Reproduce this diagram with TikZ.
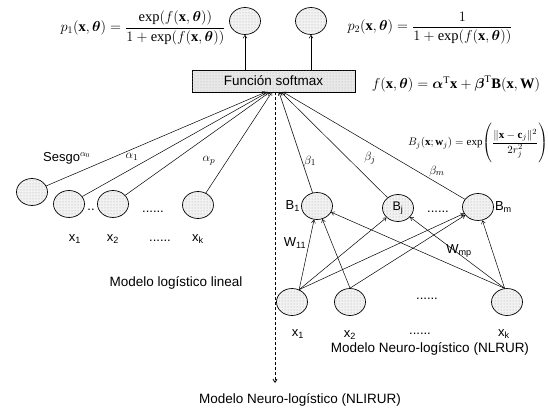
\documentclass[tikz,border=0pt]{standalone}
\usepackage{fontspec}
\setmainfont{Liberation Serif}
\setsansfont{Liberation Sans}
\usepackage{amsmath}
\usetikzlibrary{shapes.geometric,arrows.meta,patterns}
\begin{document}
\begin{tikzpicture}[x=1pt,y=-1pt,
  neuron/.style={ellipse, draw, line width=0.7pt, minimum width=31pt, minimum height=27pt, inner sep=0pt,
    fill=gray!10, postaction={pattern=dots, pattern color=gray!70}},
  smbox/.style={draw, line width=0.5pt, minimum width=163pt, minimum height=22pt, inner sep=0pt,
    fill=gray!18, postaction={pattern=dots, pattern color=gray!60}, font=\sffamily\fontsize{13.5}{15}\selectfont},
  arr/.style={-{Straight Barb[length=3pt,width=4pt]}, line width=0.5pt},
  lab/.style={font=\sffamily\fontsize{13}{15}\selectfont, inner sep=1pt},
  big/.style={font=\sffamily\fontsize{13.5}{15}\selectfont, inner sep=0pt},
  eq/.style={font=\fontsize{14.5}{16}\selectfont, inner sep=0pt}
]
\useasboundingbox (0,0) rectangle (548,412);

% outputs and softmax
\node[neuron] (o1) at (245,21) {};
\node[neuron] (o2) at (311,21) {};
\node[smbox] (sm) at (273.5,81) {Función softmax};
\draw[arr] (sm.north -| o1.south) -- (o1.south);
\draw[arr] (sm.north -| o2.south) -- (o2.south);

% formulas
\node[eq] (p1) at (143,28) {$p_1(\mathbf{x},\boldsymbol{\theta})=\dfrac{\exp(f(\mathbf{x},\boldsymbol{\theta}))}{1+\exp(f(\mathbf{x},\boldsymbol{\theta}))}$};
\node[eq] (p2) at (430,28) {$p_2(\mathbf{x},\boldsymbol{\theta})=\dfrac{1}{1+\exp(f(\mathbf{x},\boldsymbol{\theta}))}$};
\node[eq] (fx) at (456,84) {$f(\mathbf{x},\boldsymbol{\theta})=\boldsymbol{\alpha}^{\mathrm{T}}\mathbf{x}+\boldsymbol{\beta}^{\mathrm{T}}\mathbf{B}(\mathbf{x},\mathbf{W})$};
\node[eq, font=\fontsize{11}{13}\selectfont] (bf) at (478,143) {$B_j(\mathbf{x};\mathbf{w}_j)=\exp\!\left(\rule[-16pt]{0pt}{38pt}\dfrac{\|\mathbf{x}-\mathbf{c}_j\|^2}{2r_j^2}\right)$};

% convergence points on the box
\coordinate (c0) at (266,92);
\coordinate (c1) at (268,92);
\coordinate (c2) at (270,92);
\coordinate (c3) at (272,92);
\coordinate (d1) at (279,92);
\coordinate (d2) at (281,92);
\coordinate (d3) at (283,92);
\coordinate (dend) at (275,383);
\draw[arr, line width=0.9pt, dash pattern=on 3pt off 2pt] (sm.south -| dend) -- (dend);

% left model
\node[neuron] (bias) at (32,192) {};
\node[neuron] (lx1) at (69,204) {};
\node[neuron] (lx2) at (113,204) {};
\node[neuron] (lxk) at (198,205) {};
\draw[arr] (bias) -- (c0);
\draw[arr] (lx1) -- (c1);
\draw[arr] (lx2) -- (c2);
\draw[arr] (lxk) -- (c3);
\node[lab, anchor=west] (sesgo) at (42,158) {Sesgo\textsuperscript{$\alpha_0$}};
\node[lab] (a1) at (132,157) {$\alpha_1$};
\node[lab] (ap) at (209,161) {$\alpha_p$};
\node[lab] (ld1) at (91,210) {..};
\node[lab] (ld2) at (153,212) {......};
\node[lab] (lt1) at (75,239) {x\textsubscript{1}};
\node[lab] (lt2) at (113,239) {x\textsubscript{2}};
\node[lab] (lt3) at (160,241) {......};
\node[lab] (ltk) at (198,239) {x\textsubscript{k}};
\node[big] (mll) at (176,283) {Modelo logístico lineal};

% right model: hidden layer
\node[neuron] (B1) at (317,206) {};
\node[neuron, font=\sffamily\fontsize{12.5}{14}\selectfont] (Bj) at (398,208) {B\textsubscript{j}};
\node[neuron] (Bm) at (478,207) {};
\node[lab, anchor=east] (B1l) at (B1.west) {B\textsubscript{1}};
\node[lab, anchor=west] (Bml) at (Bm.east) {B\textsubscript{m}};
\node[lab] (hd) at (438,212) {......};
\draw[arr] (B1) -- (d1);
\draw[arr] (Bj) -- (d2);
\draw[arr] (Bm) -- (d3);
\node[lab] (b1) at (310,161) {$\beta_1$};
\node[lab] (bj) at (370,158) {$\beta_j$};
\node[lab] (bm) at (437,171) {$\beta_m$};

% right model: inputs
\node[neuron] (rx1) at (292,302) {};
\node[neuron] (rx2) at (350,302) {};
\node[neuron] (rxk) at (507,302) {};
\coordinate (s1) at (rx1.60);
\coordinate (s2) at (rx2.north);
\coordinate (sk) at (rxk.100);
\draw[arr] (s1) -- (B1);
\draw[arr] (s1) -- (Bj);
\draw[arr] (s1) -- (Bm);
\draw[arr] (s2) -- (B1);
\draw[arr] (s2) -- (Bm);
\draw[arr] (sk) -- (B1);
\draw[arr] (sk) -- (Bj);
\draw[arr] (sk) -- (Bm);
\node[lab] (w11) at (295,243) {W\textsubscript{11}};
\node[lab] (wmp) at (459,251) {W\textsubscript{mp}};
\node[lab] (rd) at (427,299) {......};
\node[lab] (rt1) at (298,334) {x\textsubscript{1}};
\node[lab] (rt2) at (350,335) {x\textsubscript{2}};
\node[lab] (rt3) at (420,334) {......};
\node[lab] (rtk) at (504,334) {x\textsubscript{k}};
\node[big] (mnl) at (430,349) {Modelo Neuro-logístico (NLRUR)};
\node[big] (mnli) at (300,400) {Modelo Neuro-logístico (NLIRUR)};
\end{tikzpicture}
\end{document}
